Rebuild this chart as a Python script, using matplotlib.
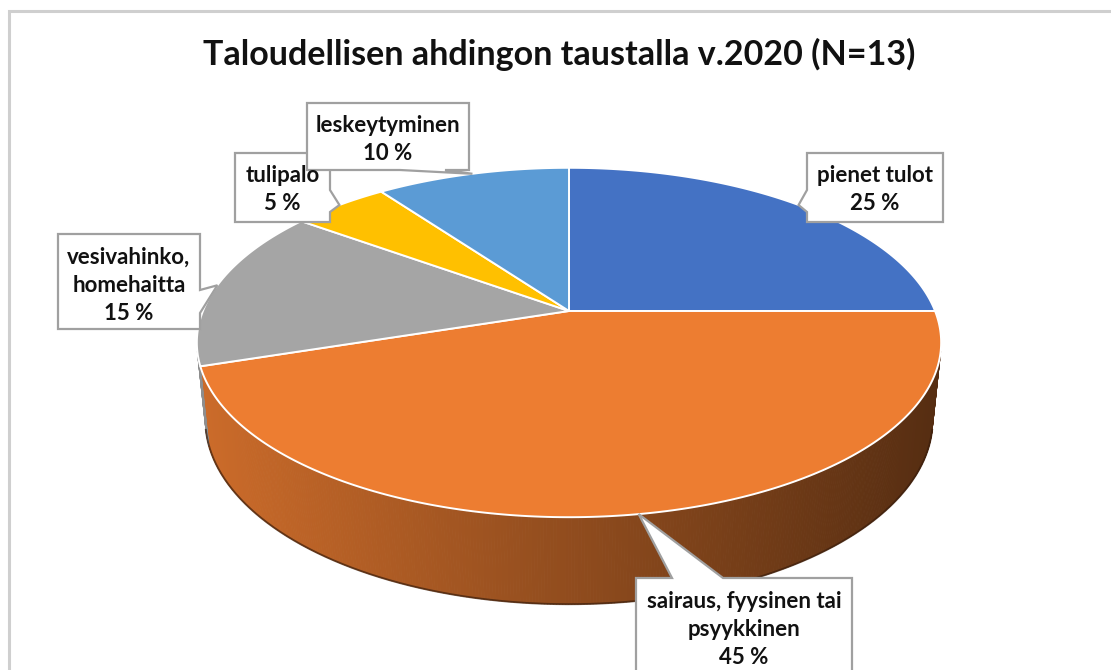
import numpy as np
import matplotlib
matplotlib.use("Agg")
import matplotlib.pyplot as plt
from matplotlib.patches import Polygon
from matplotlib.collections import PolyCollection
from matplotlib.colors import to_rgb

TITLE = "Taloudellisen ahdingon taustalla v.2020 (N=13)"
categories = ["pienet tulot", "sairaus, fyysinen tai\npsyykkinen",
              "vesivahinko,\nhomehaitta", "tulipalo", "leskeytyminen"]
shares = [25, 45, 15, 5, 10]
colors = ["#4472C4", "#ED7D31", "#A5A5A5", "#FFC000", "#5B9BD5"]

# --- geometry of the tilted 3D disc, in screen pixels ---
CX, CY = 569, 311
PHI = np.radians(27.5)
DIST = 4.92
FOC = 1801
THICK = 0.24


def project(theta, y=0.0):
    # theta clockwise from 12 o'clock, y = height (0 top face, -THICK bottom)
    X = np.sin(theta)
    Z = -np.cos(theta)
    depth = DIST - y * np.sin(PHI) - Z * np.cos(PHI)
    sx = CX + FOC * X / depth
    sy = CY - FOC * (y * np.cos(PHI) - Z * np.sin(PHI)) / depth
    return sx, sy


fracs = np.array(shares, dtype=float) / sum(shares)
edges = np.concatenate([[0], np.cumsum(fracs)]) * 2 * np.pi

fig = plt.figure(figsize=(11.11, 6.70), dpi=100)
ax = fig.add_axes([0, 0, 1, 1])
ax.set_xlim(0, 1111)
ax.set_ylim(670, 0)
ax.axis("off")

# chart frame
ax.plot([9, 9, 1111], [670, 11, 11], color="#CFCFCF", lw=2.2, solid_joinstyle="miter")

# --- side walls ---
vis = np.arccos(-1 / (DIST * np.cos(PHI)))
polys, fcs = [], []
for i in range(len(shares)):
    a0 = max(edges[i], vis)
    a1 = min(edges[i + 1], 2 * np.pi - vis)
    if a1 <= a0:
        continue
    t = np.linspace(a0, a1, max(3, int((a1 - a0) / np.radians(0.4))))
    for ta, tb in zip(t[:-1], t[1:]):
        p = [project(ta), project(tb), project(tb, -THICK), project(ta, -THICK)]
        xm = np.mean([q[0] for q in p])
        shade = np.interp(xm, [200, 940], [0.86, 0.36])
        fcs.append(tuple(np.array(to_rgb(colors[i])) * shade))
        polys.append(p)
ax.add_collection(PolyCollection(polys, facecolors=fcs, edgecolors=fcs, linewidths=0.7))

tb_ = np.linspace(vis, 2 * np.pi - vis, 300)
bx, by = project(tb_, -THICK)
ax.plot(bx, by, color="#3b1e0c", lw=1.4, alpha=0.7)

# --- top faces ---
for i, c in enumerate(colors):
    t = np.linspace(edges[i], edges[i + 1], 200)
    sx, sy = project(t)
    pts = np.column_stack([np.concatenate([[CX], sx]), np.concatenate([[CY], sy])])
    ax.add_patch(Polygon(pts, closed=True, facecolor=c, edgecolor="white",
                         lw=1.4, joinstyle="round"))

# --- callout labels ---
boxes = [  # x0, y0, x1, y1, wedge side, wedge base, first text line y
    (807, 153, 943, 222, "left", (190, 212), 175),
    (636, 578, 852, 700, "top", (672, 723), 601),
    (58, 234, 200, 329, "right", (290, 313), 257),
    (235, 153, 330, 222, "right", (190, 212), 175),
    (307, 103, 469, 170, "bottom", (400, 445), 125),
]


def callout(x0, y0, x1, y1, side, base, apex):
    a, b = base
    if side == "top":
        return [(x0, y0), (a, y0), apex, (b, y0), (x1, y0), (x1, y1), (x0, y1)]
    if side == "right":
        return [(x0, y0), (x1, y0), (x1, a), apex, (x1, b), (x1, y1), (x0, y1)]
    if side == "bottom":
        return [(x0, y0), (x1, y0), (x1, y1), (b, y1), apex, (a, y1), (x0, y1)]
    return [(x0, y0), (x1, y0), (x1, y1), (x0, y1), (x0, b), apex, (x0, a)]


for i, (x0, y0, x1, y1, side, base, ty) in enumerate(boxes):
    mid = (edges[i] + edges[i + 1]) / 2
    apex = project(mid)
    ax.add_patch(Polygon(callout(x0, y0, x1, y1, side, base, apex), closed=True,
                         facecolor="white", edgecolor="#A0A0A0", lw=1.6, zorder=5))
    lines = categories[i].split("\n") + [f"{shares[i] / sum(shares) * 100:.0f} %"]
    for k, ln in enumerate(lines):
        ax.text((x0 + x1) / 2, ty + 28.5 * k, ln, ha="center", va="center",
                fontsize=16, fontweight="bold", family="Lato", color="#111111", zorder=6)

ax.text(559, 54, TITLE, ha="center", va="center", fontsize=24.5,
        fontweight="bold", family="Lato", color="#111111")

fig.savefig("out.png", dpi=100)
